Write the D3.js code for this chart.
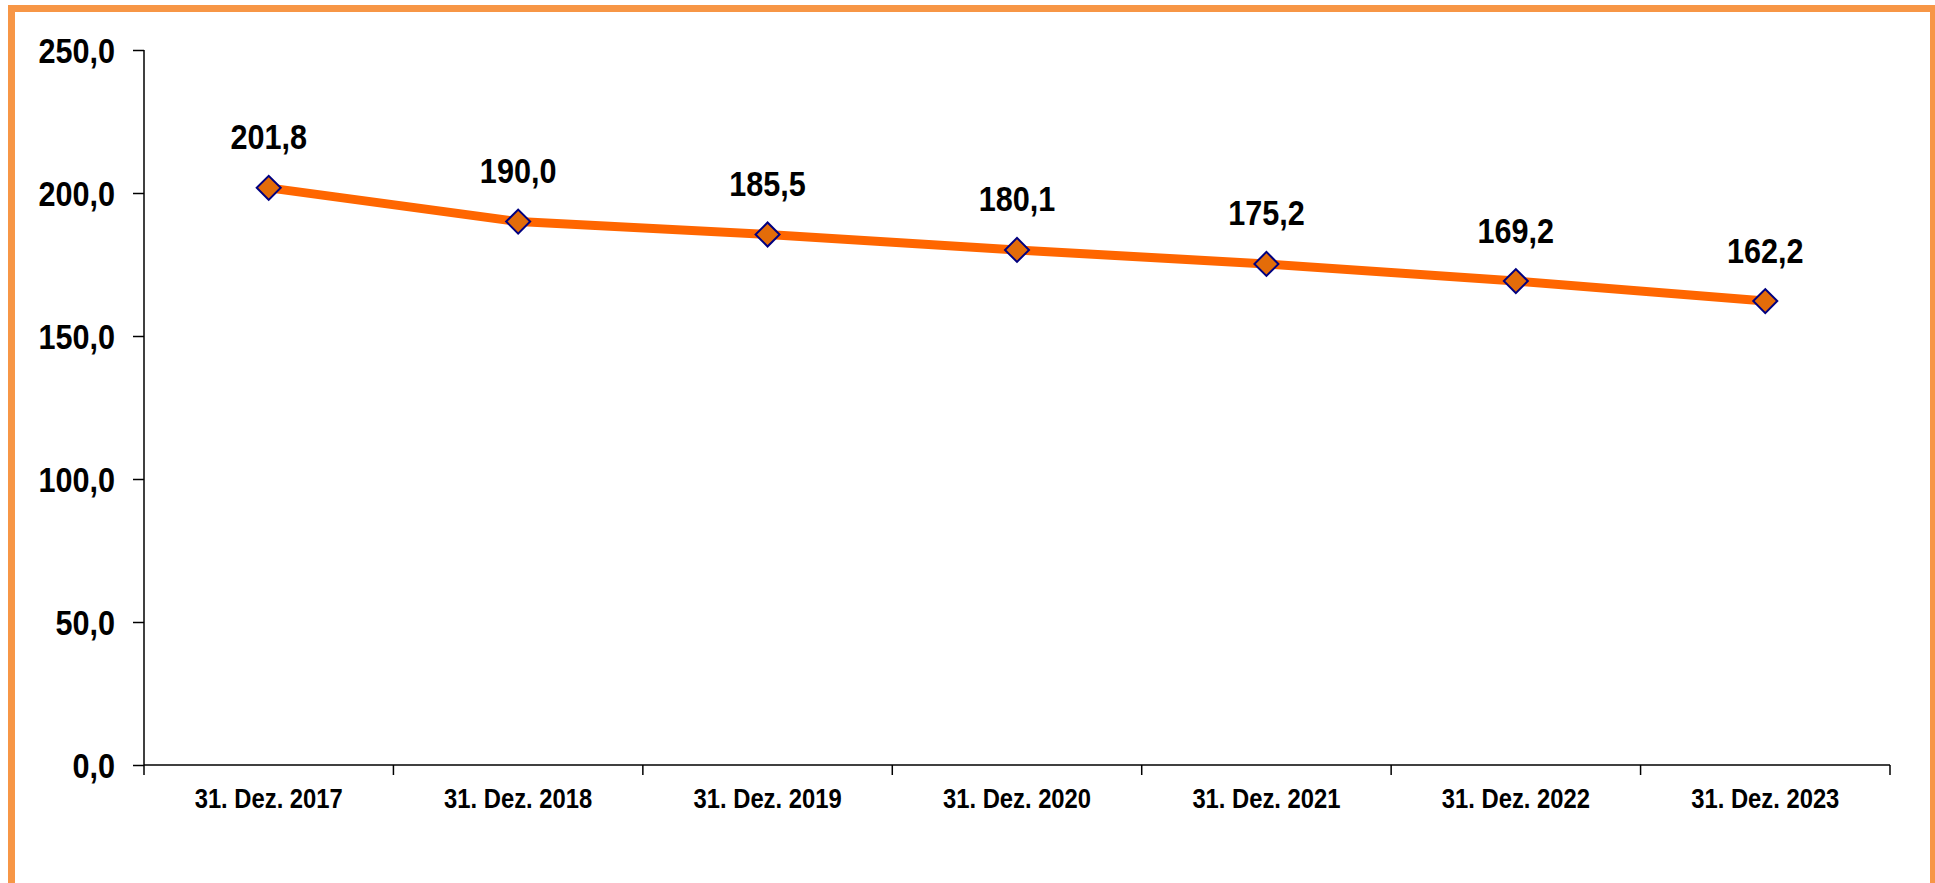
<!DOCTYPE html>
<html>
<head>
<meta charset="utf-8">
<script src="https://cdn.jsdelivr.net/npm/d3@7"></script>
<style>
    html, body { margin: 0; padding: 0; background: #fff; overflow: hidden; }
    svg text { font-family: "Liberation Sans", Arial, sans-serif; font-weight: bold; fill: #000; }
</style>
</head>
<body>
<svg id="chart"></svg>
<script>
// chart data
var categories = ["31. Dez. 2017", "31. Dez. 2018", "31. Dez. 2019", "31. Dez. 2020",
                  "31. Dez. 2021", "31. Dez. 2022", "31. Dez. 2023"];
var values = [201.8, 190.0, 185.5, 180.1, 175.2, 169.2, 162.2];
var yTicks = [0, 50, 100, 150, 200, 250];

var width = 1935,
    height = 883;

var margin = { left: 144, right: 45, top: 50, bottom: 118 };

// the original uses a narrow bold face, squeeze the text horizontally
var squeeze = 0.85;

var de = d3.formatLocale({ decimal: ",", thousands: ".", grouping: [3], currency: ["", " €"] });
var fmt = de.format(".1f");

var svg = d3.select("#chart")
    .attr("width", width)
    .attr("height", height);

// orange frame (runs off the bottom of the picture)
svg.append("rect")
    .attr("x", 11.5)
    .attr("y", 8.5)
    .attr("width", 1922)
    .attr("height", 900)
    .attr("fill", "none")
    .attr("stroke", "#F79646")
    .attr("stroke-width", 7);

var x = d3.scaleBand()
    .domain(categories)
    .range([margin.left, width - margin.right]);

var y = d3.scaleLinear()
    .domain([0, 250])
    .range([height - margin.bottom, margin.top]);

// y axis
var yAxis = svg.append("g")
    .attr("transform", "translate(" + margin.left + ",0)")
    .call(d3.axisLeft(y).tickValues(yTicks).tickFormat(fmt).tickSize(11).tickPadding(18));
yAxis.select(".domain").attr("stroke", "#000").attr("stroke-width", 1.5)
    .attr("d", "M0," + y(250) + "V" + y(0));
yAxis.selectAll(".tick line").attr("stroke", "#000").attr("stroke-width", 1.5);
yAxis.selectAll(".tick text")
    .attr("x", 0)
    .attr("transform", "translate(-29,0) scale(" + squeeze + ",1)")
    .style("font-size", "36px")
    .attr("dy", "0.36em");

// x axis, ticks on the band edges
var xAxis = svg.append("g")
    .attr("transform", "translate(0," + y(0) + ")");
xAxis.append("line")
    .attr("x1", margin.left)
    .attr("x2", width - margin.right)
    .attr("stroke", "#000")
    .attr("stroke-width", 1.5);
var edges = categories.map(function(c) { return x(c); });
edges.push(x(categories[categories.length - 1]) + x.bandwidth());
xAxis.selectAll("line.edge")
    .data(edges)
    .join("line")
    .attr("class", "edge")
    .attr("x1", d => d)
    .attr("x2", d => d)
    .attr("y1", 0)
    .attr("y2", 10)
    .attr("stroke", "#000")
    .attr("stroke-width", 1.5);
xAxis.selectAll("text")
    .data(categories)
    .join("text")
    .attr("transform", d => "translate(" + (x(d) + x.bandwidth() / 2) + ",43) scale(" + squeeze + ",1)")
    .attr("text-anchor", "middle")
    .style("font-size", "28px")
    .text(d => d);

// the series
var pts = categories.map(function(c, i) {
    return { cat: c, value: values[i] };
});
var cx = d => x(d.cat) + x.bandwidth() / 2;

var line = d3.line()
    .x(cx)
    .y(d => y(d.value));

svg.append("path")
    .datum(pts)
    .attr("d", line)
    .attr("fill", "none")
    .attr("stroke", "#FF6600")
    .attr("stroke-width", 9)
    .attr("stroke-linejoin", "round");

svg.selectAll("path.marker")
    .data(pts)
    .join("path")
    .attr("class", "marker")
    .attr("d", d3.symbol().type(d3.symbolSquare).size(2 * 12 * 12))
    .attr("transform", d => "translate(" + cx(d) + "," + y(d.value) + ") rotate(45)")
    .attr("fill", "#E36C09")
    .attr("stroke", "#000080")
    .attr("stroke-width", 2);

svg.selectAll("text.value")
    .data(pts)
    .join("text")
    .attr("class", "value")
    .attr("transform", d => "translate(" + cx(d) + "," + (y(d.value) - 38.5) + ") scale(" + squeeze + ",1)")
    .attr("text-anchor", "middle")
    .style("font-size", "36px")
    .text(d => fmt(d.value));
</script>
</body>
</html>
